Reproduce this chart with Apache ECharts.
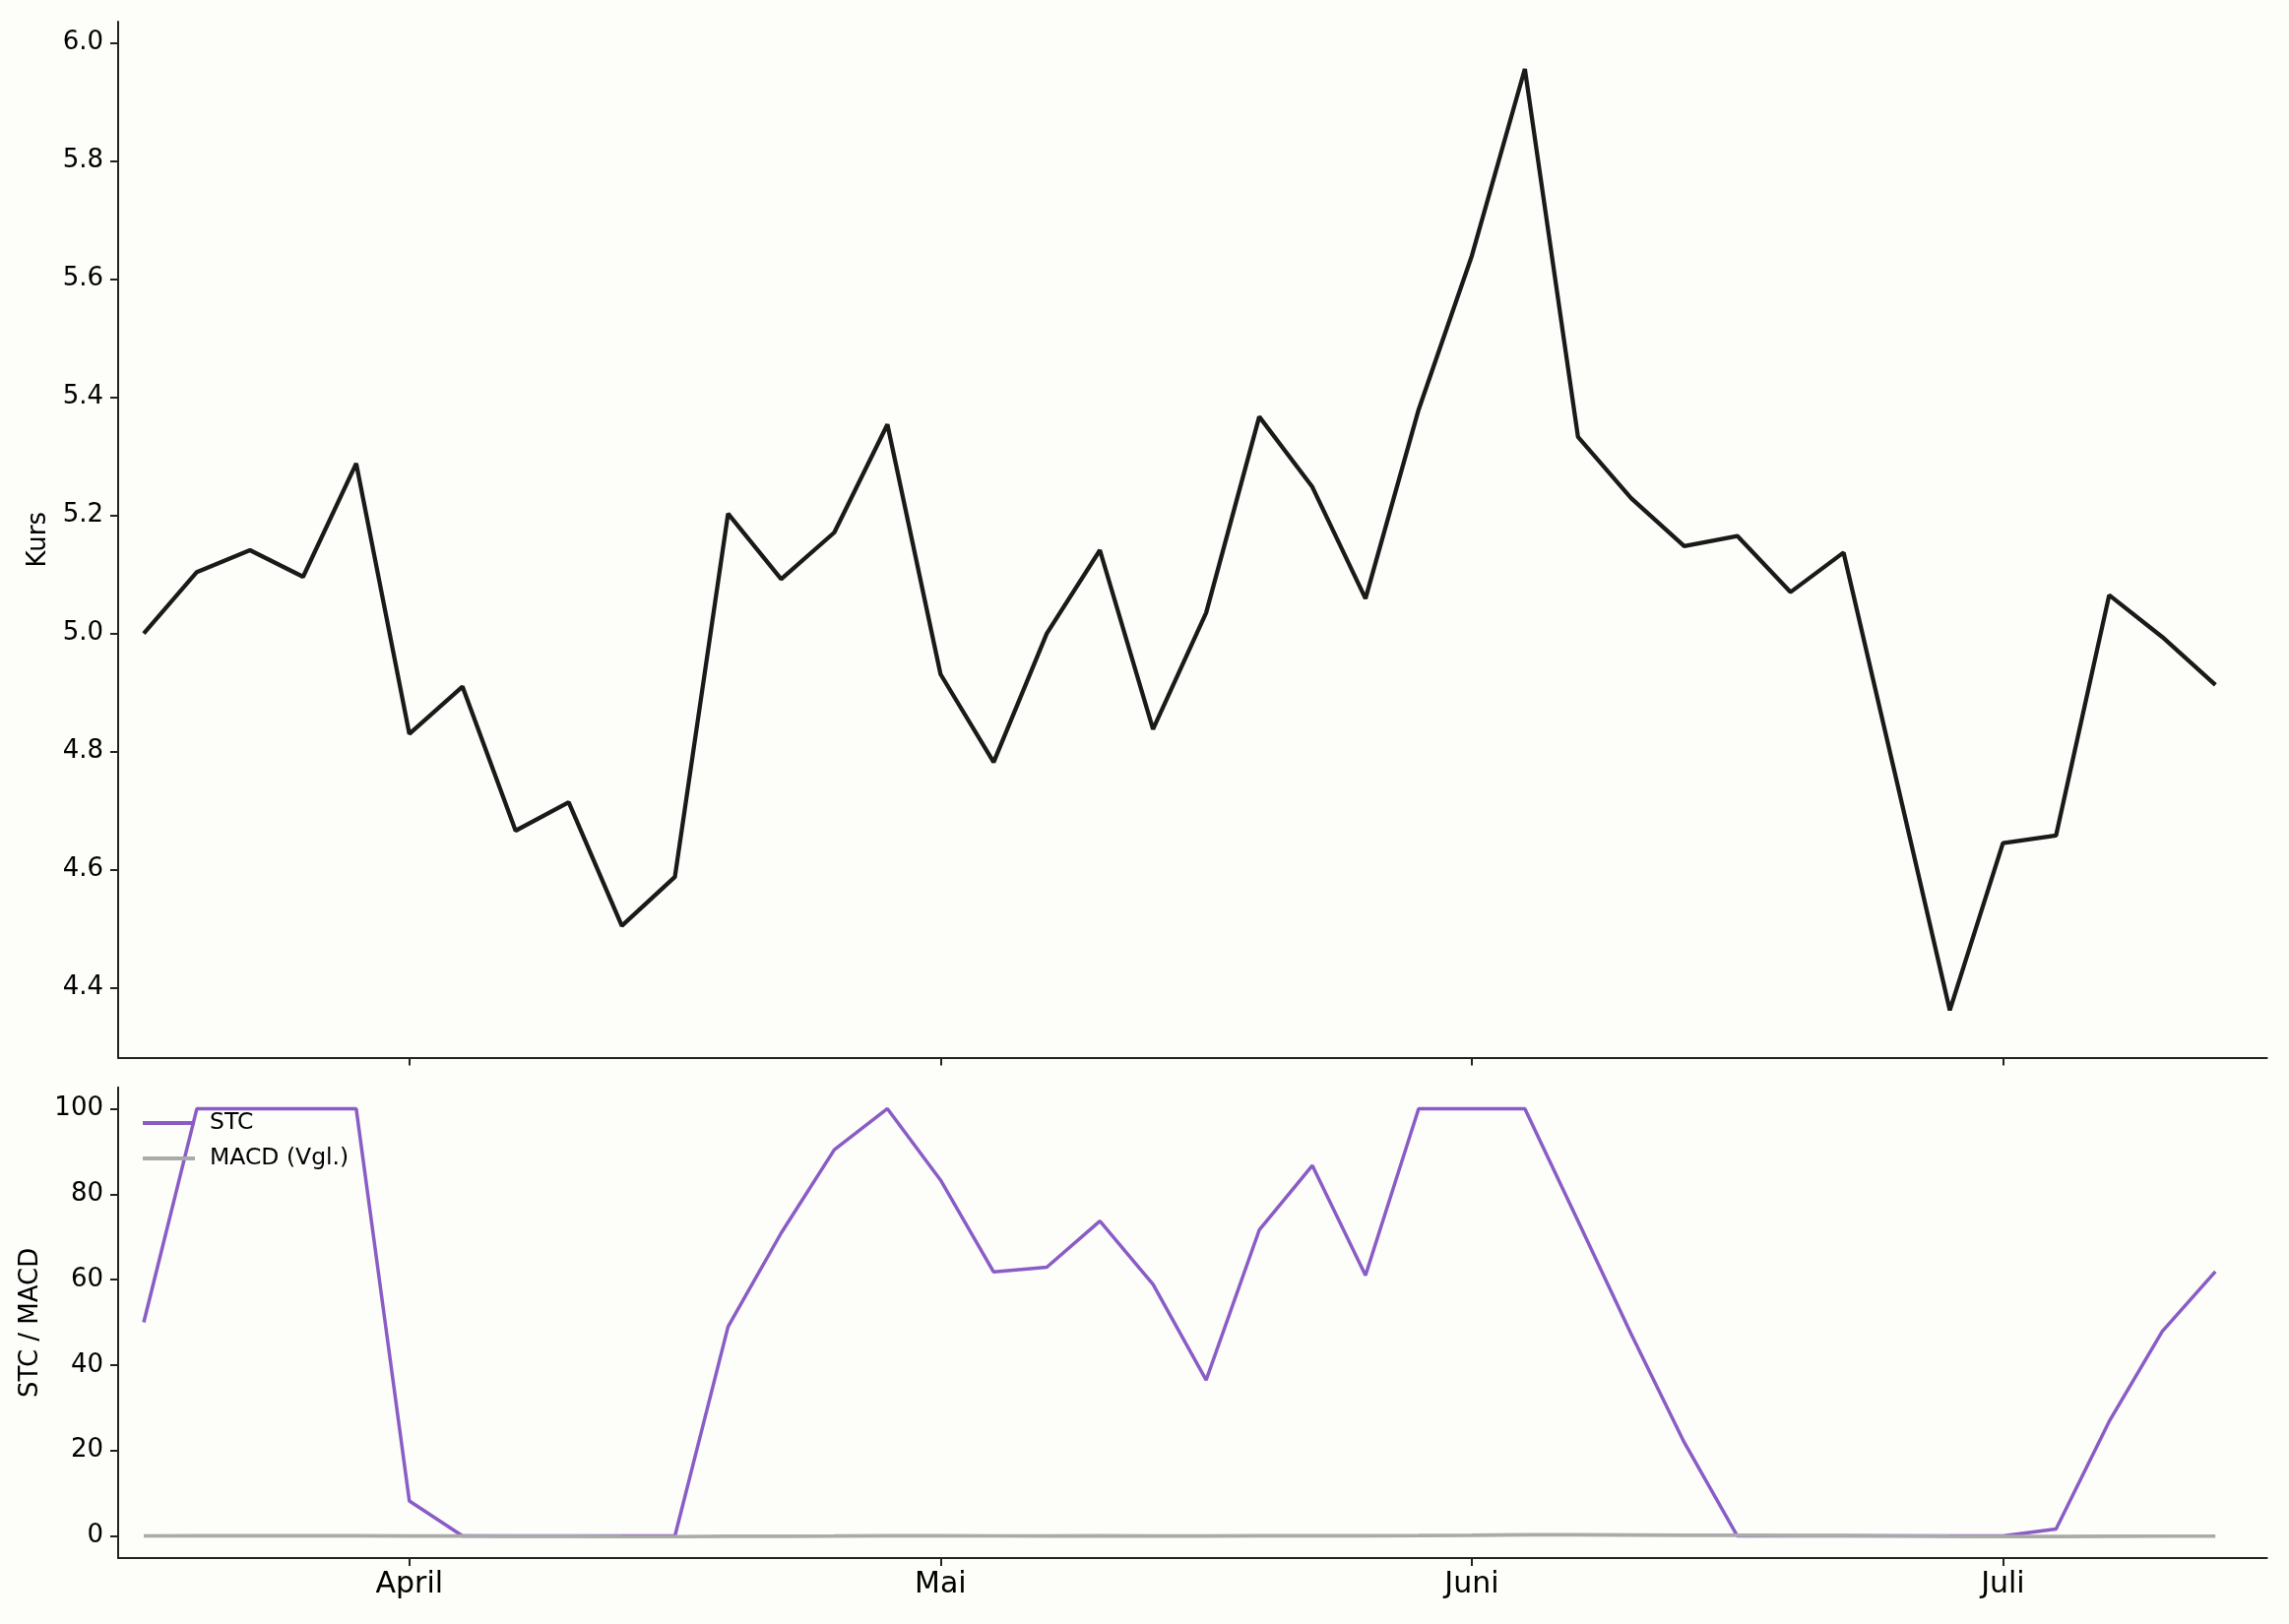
<!DOCTYPE html>
<html><head><meta charset="utf-8">
<script src="https://cdn.jsdelivr.net/npm/echarts@6/dist/echarts.min.js"></script>
<style>html,body{margin:0;padding:0;background:#fdfdfa}#c{width:2325px;height:1650px}</style>
</head><body><div id="c"></div>
<script>
// ---- data ----
const kurs = [5.000,5.104,5.141,5.096,5.288,4.830,4.910,4.666,4.714,4.505,
              4.588,5.203,5.092,5.171,5.354,4.931,4.782,5.000,5.141,4.838,
              5.035,5.367,5.248,5.059,5.379,5.639,5.956,5.333,5.229,5.148,
              5.165,5.070,5.137,4.750,4.362,4.645,4.658,5.065,4.994,4.913];
const stc = [50,100,100,100,100,8.2,0,0,0,0,
             0,49.0,70.9,90.4,100,83.3,61.8,62.9,73.7,58.9,
             36.5,71.6,86.7,61.0,100,100,100,73.7,47.3,21.9,
             0,0,0,0,0,0,1.6,26.8,47.9,61.9];
const macd = [0.00,0.01,0.02,0.02,0.04,-0.01,-0.03,-0.07,-0.10,-0.15,
              -0.17,-0.10,-0.06,-0.02,0.04,0.03,0.00,-0.01,0.01,-0.02,
              -0.02,0.03,0.05,0.04,0.08,0.15,0.25,0.24,0.21,0.17,
              0.14,0.10,0.08,0.00,-0.09,-0.12,-0.14,-0.08,-0.05,-0.05];
const monthLabels = ['April','Mai','Juni','Juli'];
const monthTickIdx = [5,15,25,35];
const kursTicks = [4.4,4.6,4.8,5.0,5.2,5.4,5.6,5.8,6.0];
const oscTicks = [0,20,40,60,80,100];

// ---- chart ----
const FONT = 'DejaVu Sans';
const AX = '#222222';
const pairs = arr => arr.map((v,i)=>[i,v]);
const monthFmt = v => { const k = monthTickIdx.indexOf(Math.round(v)); return k>=0 ? monthLabels[k] : ''; };

function xAx(gi, showLabels){
  return {
    type:'value', gridIndex:gi, min:-0.482, max:39.97,
    axisLine:{show:true, onZero:false, lineStyle:{color:AX, width:2}},
    axisTick:{show:true, customValues:monthTickIdx, length:8, lineStyle:{color:AX, width:2}},
    axisLabel:{show:showLabels, customValues:monthTickIdx, formatter:monthFmt,
               fontFamily:FONT, fontSize:30, color:'#000', margin:12},
    splitLine:{show:false}
  };
}
function yAx(gi, mn, mx, ticks, name, gap, dec){
  return {
    type:'value', gridIndex:gi, min:mn, max:mx,
    name:name, nameLocation:'middle', nameGap:gap,
    nameTextStyle:{fontFamily:FONT, fontSize:26, color:'#000'},
    axisLine:{show:true, onZero:false, lineStyle:{color:AX, width:2}},
    axisTick:{show:true, customValues:ticks, length:8, lineStyle:{color:AX, width:2}},
    axisLabel:{customValues:ticks, formatter:v=>v.toFixed(dec),
               fontFamily:FONT, fontSize:26, color:'#000', margin:15},
    splitLine:{show:false}
  };
}

const chart = echarts.init(document.getElementById('c'), null, {renderer:'canvas'});
chart.setOption({
  backgroundColor:'#fdfdfa',
  animation:false,
  grid:[
    {left:120, top:22, width:2182.6, height:1052.4},
    {left:120, top:1104.7, width:2182.6, height:478.3}
  ],
  xAxis:[ xAx(0,false), xAx(1,true) ],
  yAxis:[
    yAx(0, 4.282, 6.036, kursTicks, 'Kurs', 68, 1),
    yAx(1, -5.18, 105.01, oscTicks, 'STC / MACD', 75, 0)
  ],
  legend:{
    orient:'vertical', left:140, top:1124, itemWidth:53, itemHeight:4, itemGap:12,
    icon:'rect',
    textStyle:{fontFamily:FONT, fontSize:23.5, color:'#000', padding:[0,0,0,10], lineHeight:24},
    data:['STC','MACD (Vgl.)']
  },
  series:[
    {type:'line', name:'Kurs', xAxisIndex:0, yAxisIndex:0, data:pairs(kurs),
     showSymbol:false, lineStyle:{color:'#1a1a1a', width:4.3}, itemStyle:{color:'#1a1a1a'}},
    {type:'line', name:'STC', xAxisIndex:1, yAxisIndex:1, data:pairs(stc),
     showSymbol:false, lineStyle:{color:'#8a5cc6', width:3.5}, itemStyle:{color:'#8a5cc6'}},
    {type:'line', name:'MACD (Vgl.)', xAxisIndex:1, yAxisIndex:1, data:pairs(macd),
     showSymbol:false, lineStyle:{color:'#aaaaaa', width:3.7}, itemStyle:{color:'#aaaaaa'}}
  ]
});
</script></body></html>
